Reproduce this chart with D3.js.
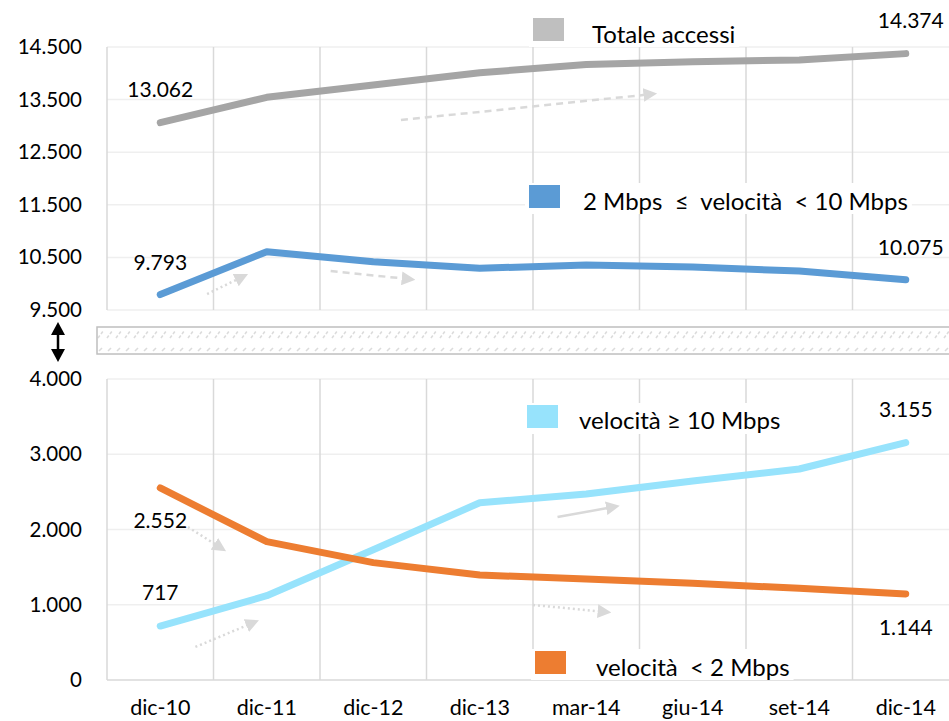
<!DOCTYPE html>
<html>
<head>
<meta charset="utf-8">
<script src="https://cdn.jsdelivr.net/npm/d3@7"></script>
<style>
  body { margin: 0; background: #fff; }
  svg { display: block; font-family: Lato, "Open Sans", sans-serif; }
  text { white-space: pre; }
</style>
</head>
<body>
<svg width="949" height="721"></svg>
<script>
// ---- Data ----
const categories = ["dic-10", "dic-11", "dic-12", "dic-13", "mar-14", "giu-14", "set-14", "dic-14"];
const totale   = [13062, 13544, 13778, 14011, 14167, 14220, 14255, 14374];
const medio    = [9793, 10608, 10418, 10293, 10355, 10318, 10240, 10075];   // 2 <= v < 10
const veloce   = [717, 1120, 1730, 2356, 2472, 2645, 2804, 3155];           // >= 10
const lento    = [2552, 1838, 1560, 1395, 1342, 1285, 1218, 1144];          // < 2
const topTicks = [9500, 10500, 11500, 12500, 13500, 14500];
const botTicks = [0, 1000, 2000, 3000, 4000];

const fmt = d3.format(",");
const it = v => fmt(v).replace(/,/g, ".");

// ---- Layout ----
const svg = d3.select("svg");
const x = d3.scaleBand().domain(categories).range([107, 959]).padding(0);
const bw = x.bandwidth();
const cx = c => x(c) + bw / 2;
const xi = i => x.range()[0] + (i + 0.5) * bw;   // fractional category index
const yTop = d3.scaleLinear().domain([9500, 14500]).range([310, 47]);
const yBot = d3.scaleLinear().domain([0, 4000]).range([680, 379]);

const series = [
  {name: "Totale accessi", values: totale, y: yTop, color: "#a5a5a5", key: "#bfbfbf"},
  {name: "2 Mbps  \u2264  velocit\u00e0  < 10 Mbps", values: medio, y: yTop, color: "#5b9bd5", key: "#5b9bd5"},
  {name: "velocit\u00e0 \u2265 10 Mbps", values: veloce, y: yBot, color: "#97e3fc", key: "#97e3fc"},
  {name: "velocit\u00e0  < 2 Mbps", values: lento, y: yBot, color: "#ed7d31", key: "#ed7d31"}
];

// ---- Grid ----
const grid = svg.append("g");
[[yTop, topTicks], [yBot, botTicks]].forEach(([y, ticks]) => {
  grid.selectAll(null).data(ticks).enter().append("line")
    .attr("x1", 107).attr("x2", 949)
    .attr("y1", d => y(d)).attr("y2", d => y(d))
    .attr("stroke", d => (y === yBot && d === 0) ? "#d9d9d9" : "#efefef")
    .attr("stroke-width", 1.5);
  const bounds = categories.map(c => x(c)).concat([x.range()[1]]);
  grid.selectAll(null).data(bounds).enter().append("line")
    .attr("x1", d => d).attr("x2", d => d)
    .attr("y1", y.range()[1]).attr("y2", y.range()[0])
    .attr("stroke", "#d9d9d9").attr("stroke-width", 1.5);
  grid.selectAll(null).data(ticks).enter().append("text")
    .attr("x", 82).attr("y", d => y(d) + 7)
    .attr("text-anchor", "end").attr("font-size", 20.5).attr("fill", "#000")
    .text(d => it(d));
});

// x labels
svg.append("g").selectAll("text").data(categories).enter().append("text")
  .attr("x", d => cx(d)).attr("y", 715)
  .attr("text-anchor", "middle").attr("font-size", 21.5)
  .text(d => d);

// ---- Axis break ----
const defs = svg.append("defs");
const pat = defs.append("pattern").attr("id", "hatch")
  .attr("patternUnits", "userSpaceOnUse").attr("width", 9).attr("height", 27)
  .attr("x", 97).attr("y", 327);
pat.append("line").attr("x1", 1).attr("y1", 11).attr("x2", 7).attr("y2", 3)
  .attr("stroke", "#dcdcdc").attr("stroke-width", 1.6).attr("stroke-dasharray", "3,2");
pat.append("line").attr("x1", 2).attr("y1", 24).attr("x2", 5).attr("y2", 21)
  .attr("stroke", "#dcdcdc").attr("stroke-width", 1.6);
svg.append("rect").attr("x", 97).attr("y", 327).attr("width", 860).attr("height", 27)
  .attr("fill", "url(#hatch)").attr("stroke", "#bfbfbf").attr("stroke-width", 1.5);

// double arrow
const da = svg.append("g");
da.append("line").attr("x1", 58).attr("x2", 58).attr("y1", 332).attr("y2", 352)
  .attr("stroke", "#000").attr("stroke-width", 2.5);
da.append("path").attr("d", "M58,322 L65,335 L51,335 Z").attr("fill", "#000");
da.append("path").attr("d", "M58,362 L65,349 L51,349 Z").attr("fill", "#000");

// ---- Trend arrows (data coords) ----
const trendArrows = [
  {y: yTop, i0: 2.26, v0: 13112, i1: 4.55, v1: 13590, dash: "7,5"},
  {y: yTop, i0: 1.60, v0: 10241, i1: 2.28, v1: 10100, dash: "7,5"},
  {y: yTop, i0: 0.44, v0: 9804,  i1: 0.72, v1: 10080, dash: "2,3"},
  {y: yBot, i0: 0.26, v0: 2033,  i1: 0.52, v1: 1800,  dash: "2,3"},
  {y: yBot, i0: 0.33, v0: 439,   i1: 0.82, v1: 730,   dash: "2,3"},
  {y: yBot, i0: 3.73, v0: 2166,  i1: 4.20, v1: 2285,  dash: null},
  {y: yBot, i0: 3.50, v0: 997,   i1: 4.12, v1: 913,   dash: "2,3"}
];
defs.append("marker").attr("id", "head")
  .attr("viewBox", "0 0 10 10").attr("refX", 1).attr("refY", 5)
  .attr("markerWidth", 5.5).attr("markerHeight", 5.5).attr("orient", "auto")
  .attr("markerUnits", "strokeWidth")
  .append("path").attr("d", "M0,0 L10,5 L0,10 Z").attr("fill", "#d9d9d9");
svg.append("g").selectAll("line").data(trendArrows).enter().append("line")
  .attr("x1", d => xi(d.i0)).attr("y1", d => d.y(d.v0))
  .attr("x2", d => xi(d.i1)).attr("y2", d => d.y(d.v1))
  .attr("stroke", "#d9d9d9").attr("stroke-width", 2.5)
  .attr("stroke-dasharray", d => d.dash)
  .attr("marker-end", "url(#head)");

// ---- Legends (with white boxes) ----
const legends = [
  {s: 0, rx: 533, ry: 18, tx: 592, ty: 43},
  {s: 1, rx: 529, ry: 185, tx: 583, ty: 210},
  {s: 2, rx: 527, ry: 405, tx: 579, ty: 429},
  {s: 3, rx: 535, ry: 651, tx: 596, ty: 676}
];
const lg = svg.append("g");
legends.forEach(l => {
  const g = lg.append("g");
  const bg = g.append("rect").attr("fill", "#fff");
  const t = g.append("text").attr("x", l.tx).attr("y", l.ty)
    .attr("font-size", 24).text(series[l.s].name);
  const bb = t.node().getBBox();
  bg.attr("x", l.rx - 4).attr("y", Math.min(l.ry, bb.y) - 2)
    .attr("width", bb.x + bb.width - l.rx + 8).attr("height", bb.height + 2);
  g.append("rect").attr("x", l.rx).attr("y", l.ry).attr("width", 31).attr("height", 23)
    .attr("fill", series[l.s].key);
});

// ---- Lines ----
series.forEach(s => {
  const line = d3.line().x((d, i) => cx(categories[i])).y(d => s.y(d));
  svg.append("path").datum(s.values)
    .attr("d", line).attr("fill", "none")
    .attr("stroke", s.color).attr("stroke-width", 7)
    .attr("stroke-linecap", "round").attr("stroke-linejoin", "round");
});

// ---- Data labels (first and last) ----
const labels = [
  {s: 0, i: 0, dy: -26, dx: 0}, {s: 0, i: 7, dy: -26, dx: 5},
  {s: 1, i: 0, dy: -25, dx: 0}, {s: 1, i: 7, dy: -25, dx: 5},
  {s: 2, i: 0, dy: -26, dx: 0}, {s: 2, i: 7, dy: -26, dx: 0},
  {s: 3, i: 0, dy: 40, dx: 0},  {s: 3, i: 7, dy: 41, dx: 0}
];
svg.append("g").selectAll("text").data(labels).enter().append("text")
  .attr("x", d => cx(categories[d.i]) + d.dx)
  .attr("y", d => series[d.s].y(series[d.s].values[d.i]) + d.dy)
  .attr("text-anchor", "middle").attr("font-size", 21)
  .text(d => it(series[d.s].values[d.i]));
</script>
</body>
</html>
